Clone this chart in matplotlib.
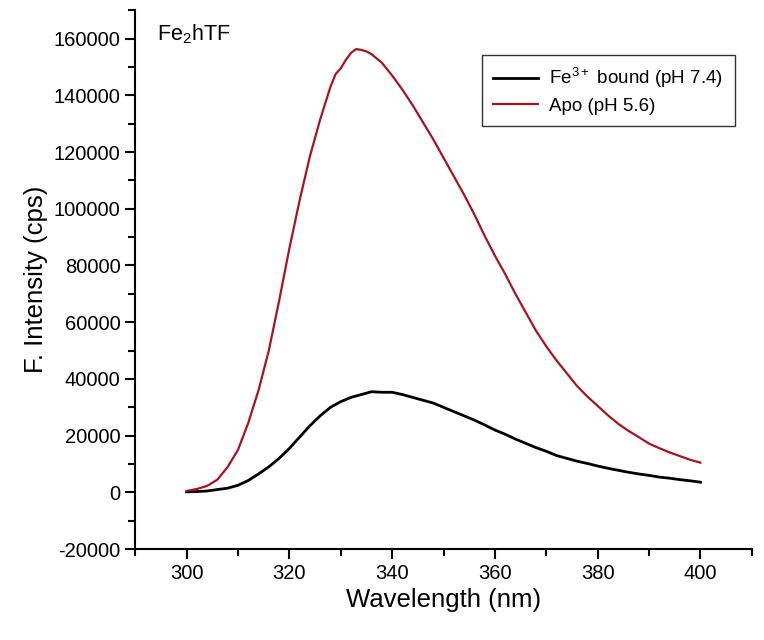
import matplotlib
matplotlib.use("Agg")
import matplotlib.pyplot as plt
from matplotlib.ticker import MultipleLocator

plt.rcParams['font.family'] = ['Liberation Sans', 'DejaVu Sans']
plt.rcParams['mathtext.default'] = 'regular'
plt.rcParams['axes.unicode_minus'] = False

# wavelength (nm) and fluorescence intensity (cps)
wl_apo = [300, 302, 304, 306, 308, 310, 312, 314, 316, 318, 320, 322, 324, 326, 328,
          329, 330, 331, 332, 333, 334, 335, 336, 338, 340, 342, 344, 346, 348, 350,
          352, 354, 356, 358, 360, 362, 364, 366, 368, 370, 372, 374, 376, 378, 380,
          382, 384, 386, 388, 390, 392, 394, 396, 398, 400]
apo = [500, 1200, 2300, 4500, 9000, 15000, 24500, 36000, 50000, 67500, 86000, 103000,
       118500, 131500, 143000, 147500, 149500, 152500, 155000, 156300, 156000, 155500,
       154500, 151500, 147000, 142000, 136500, 130500, 124500, 118000, 111500, 105000,
       98000, 90500, 83500, 77000, 70000, 63500, 57000, 51500, 46500, 42000, 37500,
       33800, 30500, 27200, 24200, 21700, 19500, 17200, 15600, 14100, 12800, 11500, 10500]

wl_fe = [300, 302, 304, 306, 308, 310, 312, 314, 316, 318, 320, 322, 324, 326, 328,
         330, 332, 334, 336, 338, 340, 342, 344, 346, 348, 350, 352, 354, 356, 358,
         360, 362, 364, 366, 368, 370, 372, 374, 376, 378, 380, 382, 384, 386, 388,
         390, 392, 394, 396, 398, 400]
fe_bound = [200, 300, 500, 1000, 1500, 2500, 4200, 6500, 9000, 12000, 15500, 19500,
            23500, 27000, 30000, 32000, 33500, 34500, 35500, 35300, 35300, 34500, 33500,
            32500, 31500, 30000, 28500, 27000, 25500, 23800, 22000, 20500, 18800, 17300,
            15800, 14500, 13000, 12000, 11000, 10200, 9300, 8500, 7800, 7100, 6500, 6000,
            5400, 5000, 4500, 4100, 3600]

fig = plt.figure(figsize=(7.64, 6.40), dpi=100)
ax = fig.add_axes([0.177, 0.142, 0.807, 0.842])

ax.plot(wl_fe, fe_bound, color='black', lw=2.0, label='Fe$^{3+}$ bound (pH 7.4)')
ax.plot(wl_apo, apo, color='#a8141c', lw=1.6, label='Apo (pH 5.6)')

ax.set_xlim(290, 410)
ax.set_ylim(-20000, 170000)
ax.xaxis.set_major_locator(MultipleLocator(20))
ax.xaxis.set_minor_locator(MultipleLocator(10))
ax.yaxis.set_major_locator(MultipleLocator(20000))
ax.yaxis.set_minor_locator(MultipleLocator(10000))

for s in ['top', 'right']:
    ax.spines[s].set_visible(False)
for s in ['left', 'bottom']:
    ax.spines[s].set_linewidth(1.5)

ax.tick_params(which='major', direction='out', length=7, width=1.5, labelsize=14.5)
ax.tick_params(which='minor', direction='out', length=5, width=1.5)

ax.set_xlabel('Wavelength (nm)', fontsize=18.5)
ax.set_ylabel('F. Intensity (cps)', fontsize=18.5)

ax.text(0.036, 0.955, 'Fe$_2$hTF', transform=ax.transAxes, fontsize=15.5,
        va='center', ha='left')

leg = ax.legend(loc='upper right', bbox_to_anchor=(0.972, 0.917), borderaxespad=0,
                fontsize=13.5, frameon=True, fancybox=False, edgecolor='black',
                handlelength=2.4, handletextpad=0.6, borderpad=0.6, labelspacing=0.4)
leg.get_frame().set_linewidth(1.0)

fig.savefig('out.png', dpi=100)
